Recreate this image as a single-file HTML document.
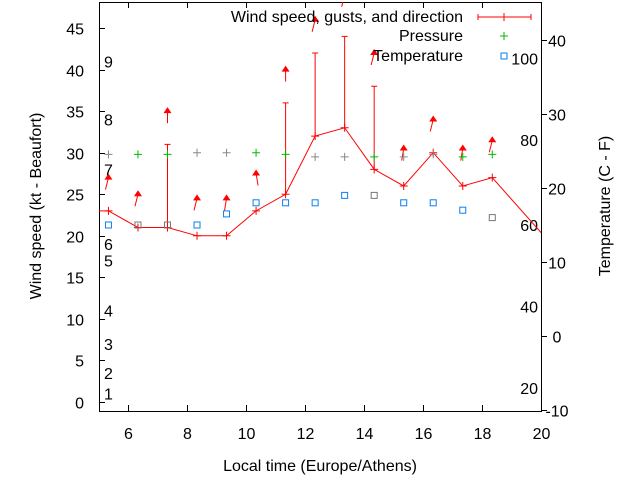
<!DOCTYPE html>
<html><head><meta charset="utf-8"><style>
body{margin:0;background:#fff}
svg{display:block;font-family:"Liberation Sans",sans-serif;font-size:16px}
</style></head><body>
<svg id="c" width="640" height="480">
</svg>
<script>
const hours=[5.35,6.35,7.35,8.35,9.35,10.35,11.35,12.35,13.35,14.35,15.35,16.35,17.35,18.35,20.35];
const windSpeed=[23,21,21,20,20,23,25,32,33,28,26,30,26,27,19];
const gustHours=[7.35,11.35,12.35,13.35,14.35];
const gustBase=[21,25,32,33,28];
const gustValues=[31,36,42,44,38];
const arrowLevel=[27,25,35,24.5,24.5,27.5,40,46,49,42,30.5,34,30.5,31.5];
const arrowTilt=[-3,-3,0,-3,-2,2,0,-3,-3,-3,-2,-3,-2,-3];
const pressure=[29.8,29.8,29.8,30,30,30,29.8,29.5,29.5,29.5,29.5,29.8,29.5,29.8];
const pressureGray=[1,0,0,1,1,0,0,1,1,0,1,1,0,0];
const tempC=[15,15,15,15,16.5,18,18,18,19,19,18,18,17,16];
const tempGray=[0,1,1,0,0,0,0,0,0,1,0,0,0,1];
const xTicks=[6,8,10,12,14,16,18,20];
const yTicks=[0,5,10,15,20,25,30,35,40,45];
const y2Ticks=[-10,0,10,20,30,40];
const beaufort=[[1,1],[2,3.5],[3,7],[4,11],[5,17],[6,19],[7,28],[8,34],[9,41]];
const fahr=[[20,-7],[40,4],[60,15],[80,26.5],[100,37.5]];

const L=99,R=541,T=2,B=411;
const X=h=>L+(h-5.03)/(20-5.03)*(R-L);
const Y=v=>402+(0-v)*8.31;
const Y2=c=>336-c*7.4;
const svg=document.getElementById('c');
const NS='http://www.w3.org/2000/svg';
function mk(tag,attrs,parent){const e=document.createElementNS(NS,tag);for(const k in attrs)e.setAttribute(k,attrs[k]);(parent||svg).appendChild(e);return e;}
function txt(s,x,y,anchor,parent){const t=mk('text',{x:x,y:y,'text-anchor':anchor||'middle'},parent);t.textContent=s;return t;}

const defs=mk('defs',{});const cp=mk('clipPath',{id:'pc'},defs);mk('rect',{x:L,y:T,width:R-L,height:B-T},cp);

const frame=mk('g',{stroke:'#000','stroke-width':1,fill:'none'});


mk('rect',{x:L+0.5,y:T+0.5,width:R-L,height:B-T},frame);

const xt=mk('g',{});


xTicks.forEach(h=>{const x=Math.round(X(h))+0.5;
 mk('line',{x1:x,y1:B,x2:x,y2:B-6,stroke:'#000'},xt);
 mk('line',{x1:x,y1:T,x2:x,y2:T+6,stroke:'#000'},xt);
 txt(String(h),x,439,'middle',xt);});
const yt=mk('g',{});


yTicks.forEach(v=>{const y=Math.round(Y(v))+0.5;
 mk('line',{x1:L,y1:y,x2:L+6,y2:y,stroke:'#000'},yt);
 txt(String(v),84,y+6,'end',yt);});
const y2t=mk('g',{});


y2Ticks.forEach(v=>{const y=Math.round(Y2(v))+0.5;
 mk('line',{x1:R,y1:y,x2:R+6,y2:y,stroke:'#000'},y2t);
 txt(String(v),557,y+6,'middle',y2t);});
const bf=mk('g',{});


beaufort.forEach(b=>txt(String(b[0]),104,Y(b[1])+6,'start',bf));
const fl=mk('g',{});


fahr.forEach(f=>txt(String(f[0]),538,Y2(f[1])+6,'end',fl));

const xl=txt('Local time (Europe/Athens)',320,471);

const yl=txt('Wind speed (kt - Beaufort)',0,0);yl.setAttribute('transform','translate(41,206) rotate(-90)');

const y2l=txt('Temperature (C - F)',0,0);y2l.setAttribute('transform','translate(610,206) rotate(-90)');


const plot=mk('g',{'clip-path':'url(#pc)'});
const pts=[[L,Y(23)]].concat(hours.map((h,i)=>[X(h),Y(windSpeed[i])]));
const wl=mk('polyline',{points:pts.map(p=>p.join(',')).join(' '),fill:'none',stroke:'#f00','stroke-width':1},plot);

hours.forEach((h,i)=>{const x=X(h),y=Y(windSpeed[i]);
 const m=mk('path',{d:`M${x-4},${y}h8M${x},${y-4}v8`,stroke:'#f00'},plot);
 });
gustHours.forEach((h,i)=>{const x=X(h);
 const g=mk('path',{d:`M${x},${Y(gustBase[i])}V${Y(gustValues[i])}M${x-3},${Y(gustValues[i])}h6`,stroke:'#f00',fill:'none'},plot);
 });
arrowLevel.forEach((v,i)=>{const x=X(hours[i]),y=Y(v),t=arrowTilt[i];
 const a=mk('g',{},plot);
 
 mk('line',{x1:x+t,y1:y+12,x2:x,y2:y,stroke:'#f00'},a);
 mk('path',{d:`M${x},${y-4}L${x-4},${y+2}L${x+4},${y+2}Z`,fill:'#f00'},a);});
pressure.forEach((v,i)=>{const x=X(hours[i]),y=Y(v);
 const p=mk('path',{d:`M${x-4},${y}h8M${x},${y-4}v8`,stroke:pressureGray[i]?'#888':'#0b0'},plot);
 });
tempC.forEach((v,i)=>{const x=X(hours[i]),y=Y2(v);
 const r=mk('rect',{x:x-3,y:y-3,width:6,height:6,fill:'none',stroke:tempGray[i]?'#777':'#0a7ff0'},plot);
 });

const lg=mk('g',{});

txt('Wind speed, gusts, and direction',463,22,'end',lg);
mk('path',{d:'M478,17h53M478,14v6M531,14v6M504,13v8',stroke:'#f00'},lg);
txt('Pressure',463,41,'end',lg);
mk('path',{d:'M500,36h8M504,32v8',stroke:'#0b0'},lg);
txt('Temperature',463,61,'end',lg);
mk('rect',{x:501,y:53,width:6,height:6,fill:'none',stroke:'#0a7ff0'},lg);
</script>
</body></html>
